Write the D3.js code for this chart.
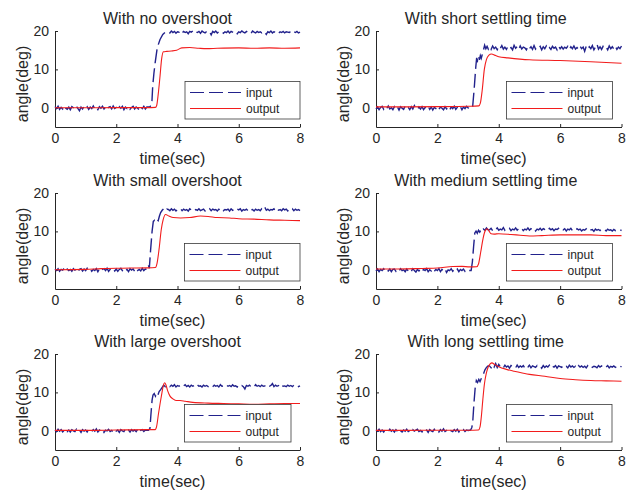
<!DOCTYPE html>
<html>
<head>
<meta charset="utf-8">
<script src="https://cdn.jsdelivr.net/npm/d3@7"></script>
<style>
  body { margin: 0; background: #fff; }
  svg { display: block; }
  text { font-family: "Liberation Sans", Arial, Helvetica, sans-serif; fill: #262626; }
</style>
</head>
<body>
<svg id="fig" width="630" height="491"></svg>
<script>
// ---- axis settings -------------------------------------------------------
const xTicks = [0, 2, 4, 6, 8];
const yTicks = [0, 10, 20];
const xDomain = [0, 8];
const yDomain = [-5, 20];
const xLabel = "time(sec)";
const yLabel = "angle(deg)";
const legendLabels = ["input", "output"];

const titles = [
  "With no overshoot", "With short settling time",
  "With small overshoot", "With medium settling time",
  "With large overshoot", "With long settling time"
];

// ---- measured input (reference angle) ------------------------------------
// "pre" samples every 0.05 s from t = 0 to 3.0 s, "post" every 0.05 s from 3.7 s to 8.0 s,
// "rise" holds the [t, angle] readings taken through the step itself.
const SAMPLE_DT = 0.05;
const POST_START = 3.7;

const inPre1 = [0.3,-0.2,0.4,-0.4,0.1,-0.3,0.5,-0.1,-0.4,0.2,-0.5,0.3,0.0,-0.3,0.4,-0.2,-0.8,0.2,-0.3,0.4,-0.1,0.3,-0.4,0.2,-0.2,0.5,-0.3,0.1,-0.5,0.3,-0.1,0.4,-0.3,0.2,-0.4,0.1,0.3,-0.3,0.5,-0.2,0.1,-0.4,0.3,-0.1,0.4,-0.5,0.2,-0.2,0.3,-0.4,0.1,0.4,-0.3,0.2,-0.1,-0.5,0.3,-0.2,0.4,-0.3,0.2];
const inRise1 = [[3.1,0.3],[3.16,0.8],[3.19,5.6],[3.23,9],[3.27,11.7],[3.34,15.7],[3.43,17.8],[3.52,19.1],[3.59,19.6],[3.65,19.9]];
const inPost1 = [19.8,19.5,20.0,19.6,19.9,19.4,19.8,19.7,20.1,19.5,19.9,19.6,19.8,19.3,19.9,19.7,20.0,19.5,19.8,19.6,19.9,19.4,20.0,19.7,19.5,19.9,19.6,19.8,19.0,19.9,19.6,20.0,19.5,19.8,19.7,19.9,19.4,19.8,19.6,20.0,19.5,19.9,19.7,19.6,19.9,19.3,19.8,19.6,20.0,19.7,19.5,19.9,19.6,19.8,19.4,20.0,19.7,19.5,19.9,19.6,19.8,19.5,19.9,19.7,19.1,19.8,19.6,20.0,19.5,19.8,19.7,19.9,19.4,19.8,19.6,19.9,19.5,19.8,19.7,19.6,19.9,19.5,19.8,19.6,19.9,19.5,19.7];

const inPre2 = [-0.3,0.2,-0.5,0.1,0.4,-0.4,0.2,-0.2,0.5,-0.3,0.0,-0.5,0.3,-0.2,0.2,-0.6,0.3,-0.1,-0.4,0.4,-0.2,0.1,-0.5,0.3,-0.3,0.6,-0.1,-0.4,0.2,-0.3,0.3,-0.5,0.1,-0.2,0.4,-0.4,0.2,-0.6,0.1,-0.2,0.3,-0.4,0.2,-0.1,-0.5,0.3,-0.3,0.1,-0.6,0.2,-0.2,0.4,-0.4,0.1,-0.3,0.3,-0.5,0.2,-0.2,0.4,0.0];
const inRise2 = [[3.1,-0.3],[3.15,0.3],[3.2,5],[3.25,10.5],[3.28,13],[3.31,12.3],[3.34,13.4],[3.37,12.5],[3.4,13.6],[3.43,12.9],[3.46,13.8],[3.5,15],[3.54,16.3],[3.58,15.4],[3.62,16.0],[3.66,15.3]];
const inPost2 = [15.9,15.2,16.1,15.4,15.8,15.1,16.0,15.5,16.2,15.3,15.8,15.2,16.0,15.4,15.7,15.1,16.3,15.5,15.9,15.2,16.1,15.3,15.8,15.6,15.1,16.0,15.4,15.9,15.2,16.2,15.3,15.8,15.5,16.0,15.1,15.9,15.4,16.1,15.3,15.7,15.2,16.0,15.5,15.8,15.1,16.1,15.4,15.9,15.3,15.8,15.5,16.0,15.2,15.9,15.4,16.1,15.3,15.7,15.2,16.0,15.4,15.8,14.7,16.0,15.3,15.9,15.4,16.2,15.1,15.8,16.6,15.3,15.9,15.2,16.0,15.5,15.8,15.1,16.1,15.4,15.9,15.3,16.0,15.2,15.8,15.4,16.1];

const inPre3 = [0.2,-0.2,0.3,-0.4,0.1,-0.1,0.4,-0.3,0.2,-0.2,0.1,-0.4,0.3,-0.1,0.2,-0.5,0.1,0.3,-0.3,0.2,-0.2,0.4,-0.1,0.2,-0.4,0.1,-0.2,0.3,-0.5,0.2,-0.3,0.1,0.3,-0.2,0.4,-0.4,0.1,-0.1,0.3,-0.3,0.2,-0.4,0.1,0.4,-0.2,0.2,-0.3,0.1,-0.5,0.3,-0.1,0.2,-0.4,0.3,-0.2,0.1,-0.3,0.4,-0.2,0.2,0.1];
const inRise3 = [[3.05,1.2],[3.08,0.4],[3.12,5],[3.17,10],[3.21,12.6],[3.25,12.9],[3.29,12.5],[3.33,13.1],[3.37,12.8],[3.41,14],[3.45,14.9],[3.5,15.5],[3.55,15.9],[3.6,15.4],[3.65,15.8]];
const inPost3 = [15.7,15.4,15.9,15.5,15.8,15.3,15.7,15.6,15.9,15.4,15.8,15.5,15.7,15.3,15.9,15.6,15.8,15.4,15.7,15.5,15.9,15.4,15.6,15.8,15.3,15.7,15.5,15.9,15.4,15.8,15.6,15.7,15.3,15.8,15.5,15.9,15.4,15.7,15.6,15.8,15.3,15.9,15.5,15.7,15.4,15.8,15.6,15.9,15.3,15.7,15.5,15.8,15.4,15.9,15.6,15.7,15.3,15.8,15.5,15.7,15.4,15.9,15.6,16.3,15.5,15.8,15.4,15.7,15.6,15.9,15.3,15.8,15.5,15.7,15.4,15.9,15.6,15.8,15.3,15.7,15.5,15.9,15.4,15.8,15.5,15.7,15.4];

const inPre4 = [-0.3,0.2,-0.5,0.1,-0.2,0.3,-0.4,0.0,-0.3,0.2,-0.5,0.1,0.2,-0.4,0.1,-0.3,0.3,-0.2,0.0,-0.5,0.2,-0.3,0.1,-0.4,0.3,-0.2,-0.6,0.1,-0.3,0.2,-0.4,0.1,-0.2,0.3,-0.5,0.0,-0.3,0.2,-0.4,0.1,-0.2,0.3,-0.5,0.1,-0.3,0.2,-0.7,0.0,-0.2,0.3,-0.4,0.1,-0.3,0.2,-0.5,0.1,-0.2,0.2,-0.4,0.1,-0.2];
const inRise4 = [[3.1,-0.2],[3.14,2],[3.18,6],[3.22,9.6],[3.26,10.1],[3.3,9.5],[3.34,10.3],[3.38,9.8],[3.42,10.4],[3.46,10.0],[3.5,10.6],[3.55,10.3],[3.6,10.9],[3.65,10.4]];
const inPost4 = [10.4,10.8,10.2,10.7,10.5,10.9,10.3,10.6,10.4,11.0,10.3,10.7,10.5,10.8,10.2,10.6,10.4,10.9,10.3,10.7,10.5,10.8,10.2,10.6,10.4,10.9,10.3,10.7,10.5,10.8,10.1,10.6,10.4,10.8,10.3,10.7,10.5,10.6,10.2,10.8,10.4,10.7,10.2,10.6,10.5,10.8,10.3,10.6,10.4,10.7,10.1,10.6,10.4,10.8,10.2,10.5,10.3,10.7,10.4,10.6,10.1,10.5,10.3,10.7,10.2,10.6,10.4,10.5,10.0,10.6,10.3,10.5,10.2,10.6,10.4,10.5,10.1,10.6,10.3,10.4,10.1,10.5,10.2,10.4,10.3,10.5,10.2];

const inPre5 = [0.2,-0.2,0.4,-0.1,0.3,-0.3,0.1,0.4,-0.2,0.2,-0.3,0.3,0.0,-0.2,0.4,-0.1,0.2,-0.4,0.3,-0.1,0.2,-0.3,0.4,0.0,-0.2,0.3,-0.1,0.5,-0.3,0.2,-0.1,0.3,-0.4,0.2,0.0,0.4,-0.2,0.1,-0.3,0.3,-0.1,0.2,-0.4,0.3,0.0,-0.2,0.4,-0.1,0.2,-0.3,0.3,-0.1,0.2,-0.2,0.4,-0.3,0.1,0.3,-0.2,0.2,0.1];
const inRise5 = [[3.05,0.1],[3.1,0.6],[3.13,4],[3.17,8],[3.2,9.3],[3.24,9.7],[3.28,9.0],[3.32,9.8],[3.36,9.3],[3.4,10.2],[3.45,10.7],[3.5,11.3],[3.55,11.9],[3.6,11.5],[3.65,11.9]];
const inPost5 = [11.8,11.5,11.9,11.6,12.0,11.4,11.8,11.6,11.9,11.5,11.7,12.0,11.5,11.8,11.4,11.9,11.6,11.8,11.5,12.0,11.6,11.7,11.4,11.9,11.6,11.8,11.5,11.9,11.7,11.5,11.9,11.6,11.8,11.4,12.0,11.6,11.7,11.5,11.9,11.6,11.8,11.5,12.0,11.6,11.7,11.4,11.9,11.6,11.8,11.5,10.9,11.8,11.6,11.9,11.5,11.7,11.4,12.0,11.6,11.8,11.5,11.9,11.6,11.7,11.5,11.9,11.6,11.8,12.3,11.5,11.9,11.6,11.8,11.4,11.9,11.6,11.7,11.5,11.9,11.6,11.8,11.5,11.9,11.6,11.8,11.5,11.7];

const inPre6 = [0.3,-0.1,0.4,-0.2,0.2,-0.3,0.3,0.0,-0.2,0.4,-0.1,0.2,-0.3,0.3,-0.2,0.5,0.0,-0.3,0.2,-0.1,0.4,-0.2,0.1,-0.3,0.3,-0.1,0.2,0.4,-0.2,0.1,-0.3,0.3,-0.1,0.2,-0.4,0.3,0.0,-0.2,0.4,-0.1,0.2,-0.3,0.3,-0.1,0.5,-0.2,0.1,-0.3,0.2,0.0,-0.2,0.3,-0.1,0.4,-0.3,0.2,-0.1,0.3,-0.2,0.2,0.1];
const inRise6 = [[3.08,0.2],[3.12,0.8],[3.15,2],[3.19,7],[3.23,11],[3.27,13.1],[3.31,12.6],[3.35,13.4],[3.39,12.8],[3.43,13.6],[3.47,14.2],[3.51,15.0],[3.55,15.9],[3.6,16.5],[3.65,16.9]];
const inPost6 = [16.9,16.4,17.2,16.6,17.5,16.5,17.3,16.7,16.9,16.4,17.1,16.6,16.9,16.3,17.0,16.7,16.8,16.4,17.1,16.5,16.9,16.6,17.0,16.3,16.8,16.6,17.1,16.4,16.9,16.7,16.5,17.0,16.6,16.8,16.3,17.0,16.5,16.9,16.6,17.1,16.4,16.8,16.6,17.0,16.3,16.9,16.7,16.5,17.0,16.6,16.8,16.4,17.1,16.6,16.9,16.5,16.8,16.3,17.0,16.6,16.9,16.5,16.8,16.4,17.0,16.6,16.9,16.5,16.8,16.7,16.4,17.0,16.6,16.9,16.5,16.8,16.6,17.0,16.4,16.8,16.6,16.9,16.5,16.8,16.6,16.9,16.6];

// ---- measured output (response angle), [t, angle] ----------------------------
const out1 = [[0,0],[1,0],[2,0.05],[3,0.05],[3.28,0.1],[3.32,0.6],[3.37,3.5],[3.43,8.3],[3.48,12.6],[3.54,14.6],[3.65,14.7],[3.8,14.8],[3.97,15.0],[4.14,15.6],[4.4,15.7],[4.7,15.5],[4.95,15.4],[5.3,15.5],[6.0,15.6],[6.5,15.5],[7.0,15.6],[7.5,15.5],[8,15.6]];
const out2 = [[0,0.25],[1,0.25],[2,0.3],[3,0.4],[3.35,0.5],[3.4,1.2],[3.46,4.5],[3.53,10],[3.6,12.6],[3.68,13.7],[3.76,14.0],[3.9,13.6],[4.0,13.3],[4.3,13.0],[5.0,12.5],[6.0,12.3],[7.0,12.0],[8,11.6]];
const out3 = [[0,0],[1,0.1],[1.5,0.3],[2,0.4],[2.5,0.45],[3,0.5],[3.28,0.6],[3.33,1.6],[3.4,5.5],[3.47,10.5],[3.53,13],[3.61,14.4],[3.72,14.0],[3.86,13.6],[4.1,13.5],[4.4,13.6],[4.75,14.0],[5.0,13.9],[5.3,13.6],[5.7,13.5],[6,13.3],[6.5,13.2],[7,13.0],[7.5,12.9],[8,12.8]];
const out4 = [[0,0.2],[0.5,0.2],[1,0.25],[1.5,0.35],[2,0.45],[2.5,0.85],[2.8,0.9],[3.05,0.75],[3.28,0.8],[3.34,1.5],[3.41,4.5],[3.49,8.2],[3.56,10.2],[3.63,10.7],[3.69,10.0],[3.75,9.4],[3.85,9.3],[4.0,9.4],[4.4,9.2],[4.7,9.0],[5.0,8.8],[5.4,8.9],[6.0,9.1],[6.5,9.1],[7.0,9.1],[7.5,8.9],[8,8.9]];
const out5 = [[0,0.1],[1,0.1],[2,0.2],[3,0.3],[3.27,0.3],[3.32,1.2],[3.38,4.5],[3.44,7.5],[3.49,9.8],[3.54,11.9],[3.58,12.5],[3.62,12.0],[3.68,10.4],[3.75,9.1],[3.85,8.3],[3.95,7.9],[4.08,7.9],[4.25,7.7],[4.5,7.4],[5.0,7.2],[5.5,7.1],[6.0,7.0],[6.5,6.9],[7.0,7.0],[7.5,7.1],[8,7.1]];
const out6 = [[0,0.1],[1,0.1],[2,0.15],[3,0.15],[3.34,0.2],[3.39,1.0],[3.43,3.5],[3.48,8],[3.53,12],[3.59,14.8],[3.65,16.5],[3.72,17.4],[3.78,17.7],[3.86,17.3],[4.0,16.7],[4.25,16.0],[4.5,15.5],[4.8,15.0],[5.0,14.7],[5.5,14.2],[6.0,13.6],[6.5,13.3],[7.0,13.1],[7.5,13.0],[8,12.9]];

// ---- assemble series ------------------------------------------------------
function inputSeries(pre, rise, post) {
  const head = pre.map((v, i) => [+(i * SAMPLE_DT).toFixed(2), v]);
  const tail = post.map((v, i) => [+(POST_START + i * SAMPLE_DT).toFixed(2), v]);
  return head.concat(rise, tail);
}

const inputs = [
  inputSeries(inPre1, inRise1, inPost1),
  inputSeries(inPre2, inRise2, inPost2),
  inputSeries(inPre3, inRise3, inPost3),
  inputSeries(inPre4, inRise4, inPost4),
  inputSeries(inPre5, inRise5, inPost5),
  inputSeries(inPre6, inRise6, inPost6)
];
const outputs = [out1, out2, out3, out4, out5, out6];

// ---- figure layout --------------------------------------------------------
const colX = [55, 376];
const colW = [245, 245.5];
const rowTop = [31, 193, 354];
const plotH = 96;
const titleShift = [-10, -13];
// legend box left edge and width, per panel
const legendBox = [
  [185, 115], [506.5, 106],
  [184.5, 115.5], [506.5, 106],
  [184.5, 106.5], [506.5, 105.5]
];

const colors = { input: "#22228c", output: "#f21c1c", axis: "#262626" };

const svg = d3.select("#fig");

titles.forEach((title, i) => {
  const col = i % 2, row = Math.floor(i / 2);
  const x0 = colX[col], w = colW[col];
  const top = rowTop[row], bottom = top + plotH;

  const x = d3.scaleLinear().domain(xDomain).range([x0, x0 + w]);
  const y = d3.scaleLinear().domain(yDomain).range([bottom, top]);

  const g = svg.append("g");

  // axes with inward ticks
  const ax = g.append("g")
    .attr("transform", `translate(0,${bottom})`)
    .call(d3.axisBottom(x).tickValues(xTicks).tickFormat(d3.format("d"))
      .tickSizeInner(-3).tickSizeOuter(0).tickPadding(6.5));
  const ay = g.append("g")
    .attr("transform", `translate(${x0},0)`)
    .call(d3.axisLeft(y).tickValues(yTicks).tickFormat(d3.format("d"))
      .tickSizeInner(-3).tickSizeOuter(0).tickPadding(6));
  [ax, ay].forEach(a => {
    a.select(".domain").attr("stroke", colors.axis).attr("stroke-width", 1);
    a.selectAll(".tick line").attr("stroke", colors.axis);
    a.selectAll(".tick text").attr("font-size", 14).attr("fill", colors.axis)
      .style("font-family", '"Liberation Sans", Arial, Helvetica, sans-serif');
  });

  // data lines
  const line = d3.line().x(d => x(d[0])).y(d => y(d[1]));
  g.append("path")
    .datum(inputs[i])
    .attr("fill", "none")
    .attr("stroke", colors.input)
    .attr("stroke-width", 1.4)
    .attr("stroke-dasharray", "14,5")
    .attr("d", line);
  g.append("path")
    .datum(outputs[i])
    .attr("fill", "none")
    .attr("stroke", colors.output)
    .attr("stroke-width", 1.1)
    .attr("d", line.curve(d3.curveMonotoneX));

  // title and axis labels
  g.append("text")
    .attr("x", x0 + w / 2 + titleShift[col]).attr("y", top - 7)
    .attr("text-anchor", "middle").attr("font-size", 16)
    .text(title);
  g.append("text")
    .attr("x", x0 + w / 2 - 5).attr("y", bottom + 36.5)
    .attr("text-anchor", "middle").attr("font-size", 16)
    .text(xLabel);
  g.append("text")
    .attr("transform", `translate(${x0 - 27},${top + plotH / 2 + 5}) rotate(-90)`)
    .attr("text-anchor", "middle").attr("font-size", 16)
    .text(yLabel);

  // legend
  const [lx, lw] = legendBox[i];
  const ly = bottom - 45.5;
  const lg = g.append("g");
  lg.append("rect")
    .attr("x", lx).attr("y", ly).attr("width", lw).attr("height", 37.5)
    .attr("fill", "#fff").attr("stroke", "#3a3a3a").attr("stroke-width", 0.8);
  legendLabels.forEach((lab, k) => {
    const yy = ly + 11 + k * 16;
    lg.append("line")
      .attr("x1", lx + 5).attr("x2", lx + 56).attr("y1", yy).attr("y2", yy)
      .attr("stroke", k === 0 ? colors.input : colors.output)
      .attr("stroke-width", k === 0 ? 1 : 1.1)
      .attr("stroke-dasharray", k === 0 ? "14,5" : null);
    lg.append("text")
      .attr("x", lx + 61).attr("y", yy + 4.4)
      .attr("font-size", 12)
      .text(lab);
  });
});
</script>
</body>
</html>
